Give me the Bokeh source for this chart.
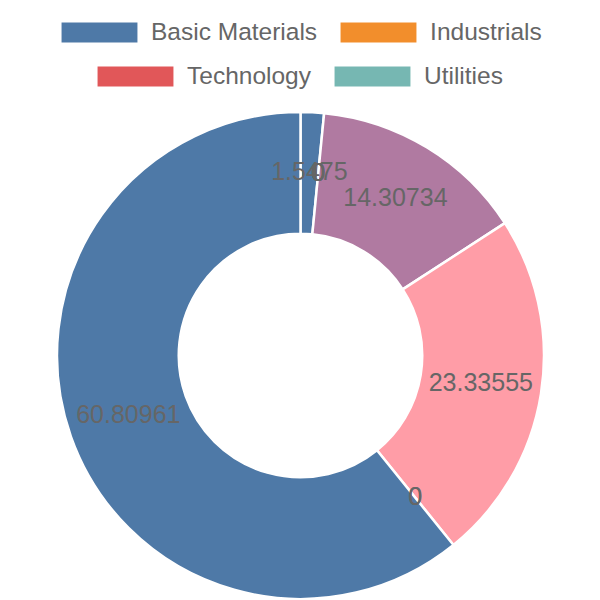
import math
from bokeh.plotting import figure
from bokeh.models import ColumnDataSource, Range1d, Legend, LegendItem
from bokeh.core.properties import value
from bokeh.embed import file_html
from bokeh.resources import INLINE

# ---- data ----
legend_labels = ["Basic Materials", "Industrials", "Technology", "Utilities"]
values = [1.5475, 0, 0, 0, 0, 0, 14.30734, 23.33555, 0, 0, 60.80961]
colors = ["#4e79a7", "#f28e2c", "#e15759", "#76b7b2", "#59a14f", "#edc949",
          "#b07aa1", "#ff9da7", "#9c755f", "#bab0ab", "#4e79a7"]
value_labels = ["1.5475", "0", "0", "0", "0", "0", "14.30734", "23.33555", "0", "0", "60.80961"]

W, H = 600, 600
cx, cy = 300, 600 - 355
r_out, r_in = 243.5, 121.75

total = sum(values)
starts, ends, lx, ly, ro, ri = [], [], [], [], [], []
acc = 0.0
for v in values:
    a0 = math.pi / 2 - 2 * math.pi * acc / total
    a1 = math.pi / 2 - 2 * math.pi * (acc + v) / total
    starts.append(a0)
    ends.append(a1)
    # zero-sized slices take no area
    ro.append(r_out if v > 0 else 0.0)
    ri.append(r_in if v > 0 else 0.0)
    mid = (a0 + a1) / 2
    rm = (r_out + r_in) / 2
    lx.append(cx + rm * math.cos(mid))
    ly.append(cy + rm * math.sin(mid))
    acc += v

src = ColumnDataSource(dict(x=[cx] * len(values), y=[cy] * len(values),
                            start=starts, end=ends, color=colors, ro=ro, ri=ri,
                            lx=lx, ly=ly, label=value_labels))

p = figure(width=W, height=H, output_backend="svg", toolbar_location=None,
           x_range=Range1d(0, W), y_range=Range1d(0, H), min_border=0)
p.axis.visible = False
p.grid.visible = False
p.outline_line_color = None
p.background_fill_color = "white"
p.border_fill_color = "white"

wed = p.annular_wedge(x="x", y="y", inner_radius="ri", outer_radius="ro",
                      start_angle="start", end_angle="end", direction="clock",
                      fill_color="color", line_color="white", line_width=2.5,
                      source=src)

p.text(x="lx", y="ly", text="label", source=src, text_align="center",
       text_baseline="middle", text_font_size="25px", text_color="#666666",
       text_font=value("Liberation Sans"), y_offset=-2)

gw, gh = 98, 28
common = dict(orientation="horizontal", padding=0, margin=0, spacing=12,
              glyph_width=gw, glyph_height=gh, label_standoff=3,
              label_text_font="Liberation Sans", label_text_font_size="24.5px",
              label_text_color="#666666", label_text_baseline="middle",
              border_line_alpha=0, background_fill_alpha=0)

leg1 = Legend(items=[LegendItem(label=legend_labels[0], renderers=[wed], index=0),
                     LegendItem(label=legend_labels[1], renderers=[wed], index=1)],
              location=(50, 554), **common)
leg2 = Legend(items=[LegendItem(label=legend_labels[2], renderers=[wed], index=2),
                     LegendItem(label=legend_labels[3], renderers=[wed], index=3)],
              location=(86, 510), **common)
p.add_layout(leg1, "center")
p.add_layout(leg2, "center")

open("out.html", "w").write(file_html(p, INLINE))
